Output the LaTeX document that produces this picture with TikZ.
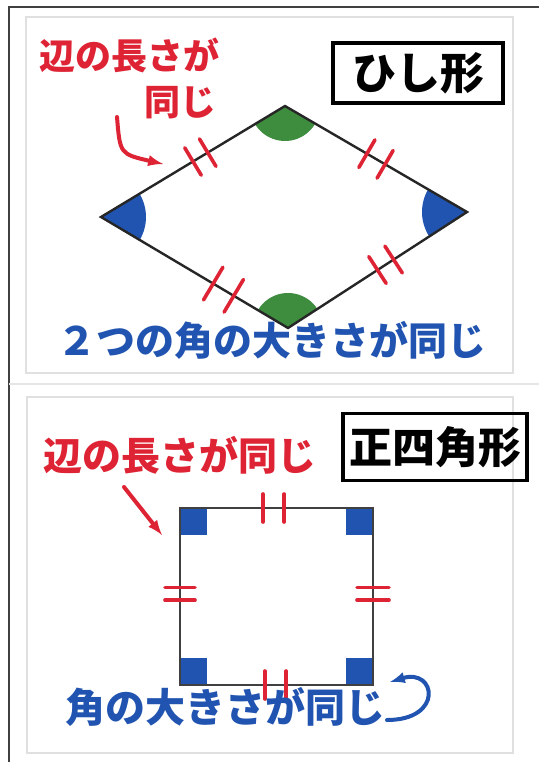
\documentclass[tikz,border=0pt]{standalone}
\usepackage{fontspec}
\newfontfamily\jpfont{Noto Sans CJK JP}
\usepackage{xcolor}
\usetikzlibrary{calc}
\usetikzlibrary{angles}
\usetikzlibrary{positioning}
\tikzset{>=latex}
\definecolor{myred}{RGB}{222,35,52}
\definecolor{myblue}{RGB}{33,84,176}
\definecolor{mygreen}{RGB}{62,140,62}
\tikzstyle{edge}=[line width=2.4pt,black!85]
\tikzstyle{panel}=[draw=black!12,line width=1.5pt,fill=white]
\tikzstyle{titlebox}=[draw=black,line width=3.2pt,inner sep=0pt]
\tikzstyle{note}=[inner sep=0pt]
\tikzstyle{tick}=[myred,line width=3.6pt,line cap=round]
\tikzstyle{pointer}=[->,line width=4pt,line cap=round]
\newcommand\jpsize[1]{\jpfont\bfseries\fontsize{#1}{#1}\selectfont}
\newcommand\eqticks[5][16pt]{{
  \foreach \t in {#4,#5}{
    \coordinate (tmpP) at ($(#2)!\t!(#3)$); % point on the side
    \draw[tick] ($(tmpP)!#1!90:(#3)$) -- ($(tmpP)!#1!-90:(#3)$);
  }
}}

\begin{document}
\begin{tikzpicture}[x=1pt,y=-1pt]
  \useasboundingbox[fill=white] (0,0) rectangle (539,762);
  % FRAME
  \draw[black!75,line width=1.8pt] (9,762) -- (9,7) -- (539,7);
  \draw[black!10,line width=1.5pt] (9,384) -- (539,384);
  \draw[panel] (26,17) rectangle (513,373);
  \draw[panel] (27,397) rectangle (513,753);

  % RHOMBUS
  \coordinate (T) at (285,106); % top
  \coordinate (L) at (101,217); % left
  \coordinate (R) at (467,212); % right
  \coordinate (B) at (288,328); % bottom
  \pic[fill=mygreen,angle radius=35pt] {angle = L--T--R};
  \pic[fill=mygreen,angle radius=35pt] {angle = R--B--L};
  \pic[fill=myblue,angle radius=45pt] {angle = B--L--T};
  \pic[fill=myblue,angle radius=45pt] {angle = T--R--B};
  \draw[edge] (L) -- (T) -- (R) -- (B) -- cycle;
  \eqticks{L}{T}{0.50}{0.58}
  \eqticks{T}{R}{0.45}{0.55}
  \eqticks[19pt]{L}{B}{0.60}{0.71}
  \eqticks{B}{R}{0.50}{0.59}

  \node[titlebox,minimum width=170pt,minimum height=60pt] (rhtitle) at (418,73)
    {\jpsize{44}ひし形};
  \node[note,myred] (rhside) at (129,55) {\jpsize{36}辺の長さが};
  \node[note,myred] (rhside2) at (180,103) {\jpsize{36}同じ};
  \node[note,myblue] (rhangle) at (272,340) {\jpsize{39}２つの角の大きさが同じ};
  \coordinate (rhA) at (117,117);
  \coordinate (rhB) at (163,164);
  \draw[pointer,myred] (rhA) .. controls (120,154) .. (rhB);

  % SQUARE
  \coordinate (S1) at (180,508); % top left
  \coordinate (S2) at (373,508); % top right
  \coordinate (S3) at (373,685); % bottom right
  \coordinate (S4) at (180,685); % bottom left
  \foreach \c/\dx/\dy in {S1/1/1,S2/-1/1,S3/-1/-1,S4/1/-1}
    \fill[myblue] (\c) rectangle ++(27*\dx,27*\dy);
  \draw[edge,black!75] (S1) -- (S2) -- (S3) -- (S4) -- cycle;
  \eqticks[14pt]{S1}{S2}{0.43}{0.54}
  \eqticks[14pt]{S4}{S3}{0.44}{0.55}
  \eqticks[15pt]{S1}{S4}{0.45}{0.52}
  \eqticks[16pt]{S2}{S3}{0.45}{0.52}

  \node[titlebox,minimum width=184pt,minimum height=67pt] (sqtitle) at (435,447)
    {\jpsize{43}正四角形};
  \node[note,myred] (sqside) at (180,455) {\jpsize{39}辺の長さが同じ};
  \node[note,myblue] (sqangle) at (225,707) {\jpsize{40}角の大きさが同じ};
  \coordinate (sqA) at (124,487);
  \coordinate (sqB) at (162,535);
  \draw[pointer,myred] (sqA) -- (sqB);
  \coordinate (sqC) at (387,720);
  \coordinate (sqD) at (390,682);
  \draw[pointer,myblue] (sqC) .. controls (444,720) and (436,668) .. (sqD);
\end{tikzpicture}
\end{document}
